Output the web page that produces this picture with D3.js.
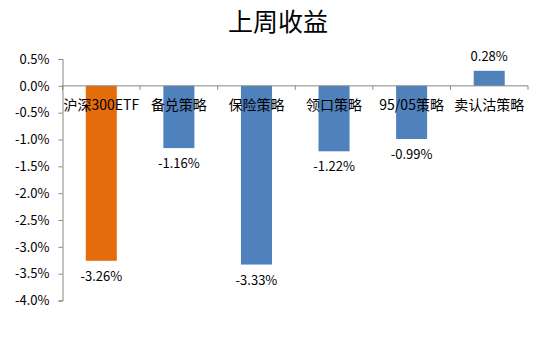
<!DOCTYPE html>
<html><head><meta charset="utf-8">
<script src="https://cdn.jsdelivr.net/npm/d3@7"></script>
<style>body{margin:0;background:#fff}svg{display:block}</style>
</head><body>
<script>
const title = "上周收益";
const categories = ["沪深300ETF","备兑策略","保险策略","领口策略","95/05策略","卖认沽策略"];
const values = [-3.26,-1.16,-3.33,-1.22,-0.99,0.28];
const colors = ["#E46C0A","#4F81BD","#4F81BD","#4F81BD","#4F81BD","#4F81BD"];
const yTicks = [0.5,0,-0.5,-1.0,-1.5,-2.0,-2.5,-3.0,-3.5,-4.0];

(function(){
const W=550,H=358;
const svg=d3.select("body").append("svg").attr("width",W).attr("height",H);
const font="'Noto Sans CJK SC','Noto Sans',sans-serif";
const mL=62.5,mR=528,mT=59,mB=300.5;
const y=d3.scaleLinear().domain([-4,0.5]).range([mB,mT]);
const x=d3.scaleBand().domain(categories).range([mL,mR]).paddingInner(0.6).paddingOuter(0.3);

svg.append("text").attr("x",278).attr("y",31).attr("text-anchor","middle")
  .attr("font-family",font).attr("font-size",25).attr("font-weight",400).attr("fill","#000").text(title);

const yAxis=d3.axisLeft(y).tickValues(yTicks).tickSize(4).tickPadding(9).tickFormat(d=>d.toFixed(1)+"%");
const gy=svg.append("g").attr("transform",`translate(${mL},0)`).call(yAxis);
gy.select(".domain").attr("stroke","#868686");
gy.selectAll(".tick line").attr("stroke","#868686");
gy.selectAll("text").attr("font-family",font).attr("font-size",13).attr("fill","#000");

svg.selectAll("rect.bar").data(values).enter().append("rect")
  .attr("x",(d,i)=>x(categories[i]))
  .attr("width",x.bandwidth())
  .attr("y",d=>y(Math.max(0,d)))
  .attr("height",d=>Math.abs(y(d)-y(0)))
  .attr("fill",(d,i)=>colors[i]);

const step=(mR-mL)/categories.length;
const bounds=d3.range(categories.length+1).map(i=>mL+i*step);
svg.append("line").attr("x1",mL).attr("x2",mR).attr("y1",y(0)).attr("y2",y(0)).attr("stroke","#868686");
svg.selectAll("line.xt").data(bounds).enter().append("line")
  .attr("x1",d=>d).attr("x2",d=>d).attr("y1",y(0)).attr("y2",y(0)+4).attr("stroke","#868686");

svg.selectAll("text.cat").data(categories).enter().append("text")
  .attr("x",d=>x(d)+x.bandwidth()/2).attr("y",y(0)+24)
  .attr("text-anchor","middle").attr("font-family",font).attr("font-size",14).attr("fill","#000").text(d=>d);

svg.selectAll("text.val").data(values).enter().append("text")
  .attr("x",(d,i)=>x(categories[i])+x.bandwidth()/2)
  .attr("y",d=>d<0? y(d)+20 : y(d)-10)
  .attr("text-anchor","middle").attr("font-family",font).attr("font-size",13).attr("fill","#000")
  .text(d=>d.toFixed(2)+"%");
})();
</script>
</body></html>
